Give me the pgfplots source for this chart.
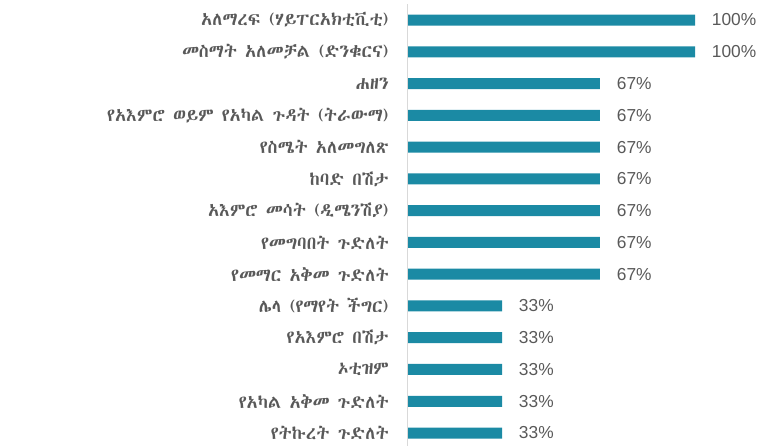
\documentclass[border=0pt]{standalone}
\usepackage{fontspec}
\setmainfont{Liberation Sans}
\IfFontExistsTF{Abyssinica SIL}{\newfontfamily\eth{Abyssinica SIL}}{\newfontfamily\eth{DejaVu Sans}}
\usepackage{pgfplots}
\pgfplotsset{compat=1.18}
\definecolor{barc}{RGB}{27,138,164}
\definecolor{txt}{RGB}{89,89,89}
\begin{document}
\begin{tikzpicture}
\useasboundingbox (0,0) rectangle (577.5pt,334.5pt);
\begin{axis}[
  at={(305.25pt,0.2pt)}, anchor=south west,
  scale only axis, width=216pt, height=331.2pt,
  xbar, bar width=8.25pt,
  xmin=0, xmax=100, ymin=-0.5, ymax=13.4,
  y dir=reverse,
  clip=false,
  axis line style={draw=none},
  hide x axis,
  /pgf/number format/assume math mode=true,
  ytick={0,...,13},
  yticklabels={
    {አለማረፍ (ሃይፐርአክቲቪቲ)},
    {መስማት አለመቻል (ድንቁርና)},
    {ሐዘን},
    {የአእምሮ ወይም የአካል ጉዳት (ትራውማ)},
    {የስሜት አለመግለጽ},
    {ከባድ በሽታ},
    {አእምሮ መሳት (ዲሜንሽያ)},
    {የመግባበት ጉድለት},
    {የመማር አቅመ ጉድለት},
    {ሌላ (የማየት ችግር)},
    {የአእምሮ በሽታ},
    {ኦቲዝም},
    {የአካል አቅመ ጉድለት},
    {የትኩረት ጉድለት}},
  yticklabel style={font=\eth\fontsize{13.6}{15}\selectfont, text=txt, anchor=east, inner sep=0pt, xshift=-13.5pt},
  major tick length=0pt,
  point meta=x,
  nodes near coords={\pgfmathprintnumber[assume math mode=true]{\pgfplotspointmeta}\%},
  nodes near coords style={font=\fontsize{13}{15}\selectfont, text=txt, anchor=west, inner sep=0pt, xshift=12.5pt},
]
\addplot[fill=barc, draw=none] coordinates {
(100,0) (100,1) (67,2) (67,3) (67,4) (67,5) (67,6) (67,7) (67,8)
(33,9) (33,10) (33,11) (33,12) (33,13)};
\draw[draw={rgb,255:red,217;green,217;blue,217}, line width=0.75pt] (axis cs:0,-0.5) -- (axis cs:0,13.4);
\end{axis}
\end{tikzpicture}
\end{document}
